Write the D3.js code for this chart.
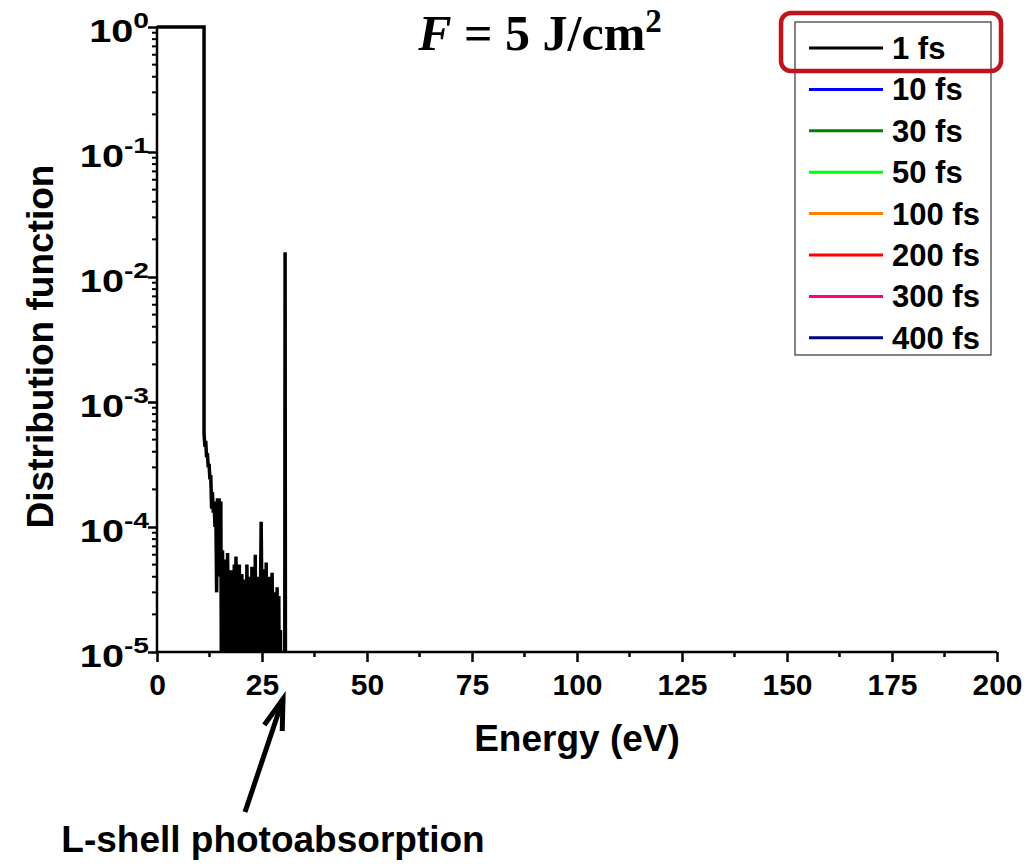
<!DOCTYPE html>
<html>
<head>
<meta charset="utf-8">
<script src="https://cdn.jsdelivr.net/npm/d3@7/dist/d3.min.js"></script>
<style>
  html, body { margin: 0; padding: 0; background: #fff; }
  svg { display: block; }
  text { font-family: Arial, "Liberation Sans", sans-serif; font-weight: bold; fill: #000; }
</style>
</head>
<body>
<svg id="chart" width="1025" height="865"></svg>
<script>
// Electron energy distribution at 1 fs (F = 5 J/cm^2)
const energy1fs = [0, 11.2, 11.2,
  11.4, 11.6, 11.8, 12.0, 12.2, 12.4, 12.6, 12.8, 13.0, 13.2, 13.4, 13.6, 13.8, 14.0,
  14.2, 14.4, 14.6, 14.8, 15.0, 15.2, 15.4, 15.6, 15.8, 16.0, 16.2, 16.4, 16.6, 16.8, 17.0,
  17.2, 17.4, 17.6, 17.8, 18.0, 18.2, 18.4, 18.6, 18.8, 19.0, 19.2, 19.4, 19.6, 19.8, 20.0,
  20.2, 20.4, 20.6, 20.8, 21.0, 21.2, 21.4, 21.6, 21.8, 22.0, 22.2, 22.4, 22.6, 22.8, 23.0,
  23.2, 23.4, 23.6, 23.8, 24.0, 24.2, 24.4, 24.6, 24.8, 25.0, 25.2, 25.4, 25.6, 25.8, 26.0,
  26.2, 26.4, 26.6, 26.8, 27.0, 27.2, 27.4, 27.6, 27.8, 28.0, 28.2, 28.4, 28.6, 28.8, 29.0,
  29.2, 29.4, 29.6, 29.8, 30.0, 30.4, 30.5, 30.6, 200];
const dist1fs = [1, 1, 5.6e-4,
  4.4e-4, 4.9e-4, 3.6e-4, 3.9e-4, 3.0e-4, 3.2e-4, 2.4e-4, 2.6e-4, 1.4e-4, 1.9e-4, 1.3e-4, 1.6e-4, 1.0e-4, 1.5e-4,
  3.0e-5, 1.7e-4, 6.0e-5, 1.7e-4, 4.0e-5, 1.6e-4, 0, 6.5e-5, 1.0e-5, 5.5e-5, 0, 4.8e-5, 0, 6.2e-5, 1.5e-5,
  4.0e-5, 0, 4.5e-5, 0, 3.0e-5, 0, 5.0e-5, 0, 5.8e-5, 1.2e-5, 3.5e-5, 0, 5.0e-5, 0, 2.5e-5,
  4.2e-5, 0, 2.6e-5, 0, 3.8e-5, 0, 5.0e-5, 1.8e-5, 4.0e-5, 0, 3.0e-5, 0, 4.8e-5, 1.5e-5, 4.5e-5,
  0, 6.0e-5, 0, 2.0e-5, 0, 4.0e-5, 0, 2.3e-5, 1.1e-4, 2.0e-5, 4.6e-5, 0, 3.0e-5, 0, 5.2e-5,
  0, 2.0e-5, 4.0e-5, 0, 3.5e-5, 0, 4.3e-5, 1.5e-5, 3.0e-5, 0, 2.5e-5, 0, 3.3e-5, 0, 2.8e-5,
  0, 1.5e-5, 0, 1.0e-5, 0, 0, 1.58e-2, 0, 0];

// Legend entries (time after the pulse)
const seriesNames = ["1 fs", "10 fs", "30 fs", "50 fs", "100 fs", "200 fs", "300 fs", "400 fs"];
const seriesColors = ["#000000", "#0000ff", "#007f00", "#00ff00", "#ff8000", "#ff0000", "#ff0080", "#000080"];

const xTicks = [0, 25, 50, 75, 100, 125, 150, 175, 200];
const yExponents = [0, -1, -2, -3, -4, -5];

const svg = d3.select("#chart");
const plot = { left: 157, right: 997, top: 27, bottom: 652 };

const x = d3.scaleLinear().domain([0, 200]).range([plot.left, plot.right]);
const y = d3.scaleLog().domain([1e-5, 1]).range([plot.bottom, plot.top]);

svg.append("defs").append("clipPath").attr("id", "plotClip")
  .append("rect")
  .attr("x", plot.left).attr("y", plot.top - 2)
  .attr("width", plot.right - plot.left).attr("height", plot.bottom - plot.top + 2);

// Distribution curve (zeros fall below the axis and are clipped)
const line = d3.line()
  .x((d, i) => x(energy1fs[i]))
  .y(d => y(Math.max(d, 1e-6)));

svg.append("path")
  .datum(dist1fs)
  .attr("clip-path", "url(#plotClip)")
  .attr("fill", "none")
  .attr("stroke", seriesColors[0])
  .attr("stroke-width", 3.5)
  .attr("stroke-linejoin", "miter")
  .attr("stroke-miterlimit", 2)
  .attr("d", line);

// X axis with minor ticks
const xAxisG = svg.append("g").attr("transform", `translate(0,${plot.bottom})`);
const xMinor = d3.range(12.5, 200, 25);
xAxisG.selectAll("line.minor").data(xMinor).join("line")
  .attr("x1", d => x(d)).attr("x2", d => x(d))
  .attr("y1", 0).attr("y2", 5)
  .attr("stroke", "#000").attr("stroke-width", 2.5);
xAxisG.call(d3.axisBottom(x).tickValues(xTicks).tickSize(10).tickPadding(12).tickFormat(d3.format("d")));
xAxisG.select(".domain").attr("stroke-width", 2.5).attr("d", `M${plot.left - 1},0H${plot.right}`);
xAxisG.selectAll(".tick line").attr("stroke-width", 2.5);
xAxisG.selectAll(".tick text")
  .attr("font-size", 30).attr("font-family", "Arial, 'Liberation Sans', sans-serif")
  .attr("font-weight", "bold").attr("fill", "#000");

// Y axis (log) with minor ticks
const yAxisG = svg.append("g").attr("transform", `translate(${plot.left},0)`);
const yMinor = [];
yExponents.slice(0, -1).forEach(e => {
  for (let k = 2; k <= 9; k++) yMinor.push(k * Math.pow(10, e - 1));
});
yAxisG.selectAll("line.minor").data(yMinor).join("line")
  .attr("x1", 0).attr("x2", -5)
  .attr("y1", d => y(d)).attr("y2", d => y(d))
  .attr("stroke", "#000").attr("stroke-width", 2);
yAxisG.call(d3.axisLeft(y).tickValues(yExponents.map(e => Math.pow(10, e))).tickSize(9).tickFormat(""));
yAxisG.select(".domain").attr("stroke-width", 2.5).attr("d", `M0,${plot.bottom}V${plot.top - 1}`);
yAxisG.selectAll(".tick line").attr("stroke-width", 2.5);

// Decade labels: wide "10" with a superscript exponent
const yLab = yAxisG.selectAll("text.ylab").data(yExponents).join("text")
  .attr("class", "ylab")
  .attr("text-anchor", "end")
  .attr("font-size", 31)
  .attr("transform", d => `translate(-8,${y(Math.pow(10, d)) + 15}) scale(1.28,1)`);
yLab.append("tspan").text("10");
yLab.append("tspan").attr("dy", -14).attr("font-size", 22).text(d => d === 0 ? "0" : "-" + Math.abs(d));

// Axis titles
svg.append("text")
  .attr("x", (plot.left + plot.right) / 2).attr("y", 751)
  .attr("text-anchor", "middle").attr("font-size", 37)
  .text("Energy (eV)");

svg.append("text")
  .attr("transform", `translate(53,${(plot.top + plot.bottom) / 2 + 7}) rotate(-90)`)
  .attr("text-anchor", "middle").attr("font-size", 37)
  .text("Distribution function");

// Title
const title = svg.append("text")
  .attr("x", 540).attr("y", 50)
  .attr("text-anchor", "middle")
  .style("font-family", "'Liberation Serif', 'Times New Roman', serif")
  .attr("font-size", 50);
title.append("tspan").attr("font-style", "italic").text("F");
title.append("tspan").text(" = 5 J/cm");
title.append("tspan").attr("dy", -18).attr("font-size", 33).text("2");

// Legend
const legend = svg.append("g");
legend.append("rect")
  .attr("x", 795).attr("y", 22).attr("width", 196).attr("height", 333)
  .attr("fill", "#fff").attr("stroke", "#333").attr("stroke-width", 1.2);
const rows = legend.selectAll("g.row").data(seriesNames).join("g")
  .attr("class", "row")
  .attr("transform", (d, i) => `translate(0,${48 + i * 41.4})`);
rows.append("line")
  .attr("x1", 809).attr("x2", 883).attr("y1", 0).attr("y2", 0)
  .attr("stroke", (d, i) => seriesColors[i]).attr("stroke-width", 3);
rows.append("text")
  .attr("x", 892).attr("y", 11)
  .attr("font-size", 31)
  .text(d => d);

// Highlight around the first legend entry
legend.append("rect")
  .attr("x", 781).attr("y", 13).attr("width", 220).attr("height", 58)
  .attr("rx", 10).attr("ry", 10)
  .attr("fill", "none").attr("stroke", "#c0141c").attr("stroke-width", 4.5);

// Annotation arrow pointing at the L-shell peak
const tail = [245, 812], tip = [283, 699];
const ang = Math.atan2(tip[1] - tail[1], tip[0] - tail[0]);
const headLen = 32, headAng = 0.3;
const barbA = [tip[0] - headLen * Math.cos(ang - headAng), tip[1] - headLen * Math.sin(ang - headAng)];
const barbB = [tip[0] - headLen * Math.cos(ang + headAng), tip[1] - headLen * Math.sin(ang + headAng)];
svg.append("line")
  .attr("x1", tail[0]).attr("y1", tail[1]).attr("x2", tip[0]).attr("y2", tip[1])
  .attr("stroke", "#000").attr("stroke-width", 5);
svg.append("path")
  .attr("d", `M${barbA[0]},${barbA[1]}L${tip[0]},${tip[1]}L${barbB[0]},${barbB[1]}`)
  .attr("fill", "none").attr("stroke", "#000").attr("stroke-width", 5)
  .attr("stroke-linejoin", "miter");

svg.append("text")
  .attr("x", 273).attr("y", 852)
  .attr("text-anchor", "middle").attr("font-size", 37)
  .text("L-shell photoabsorption");
</script>
</body>
</html>
